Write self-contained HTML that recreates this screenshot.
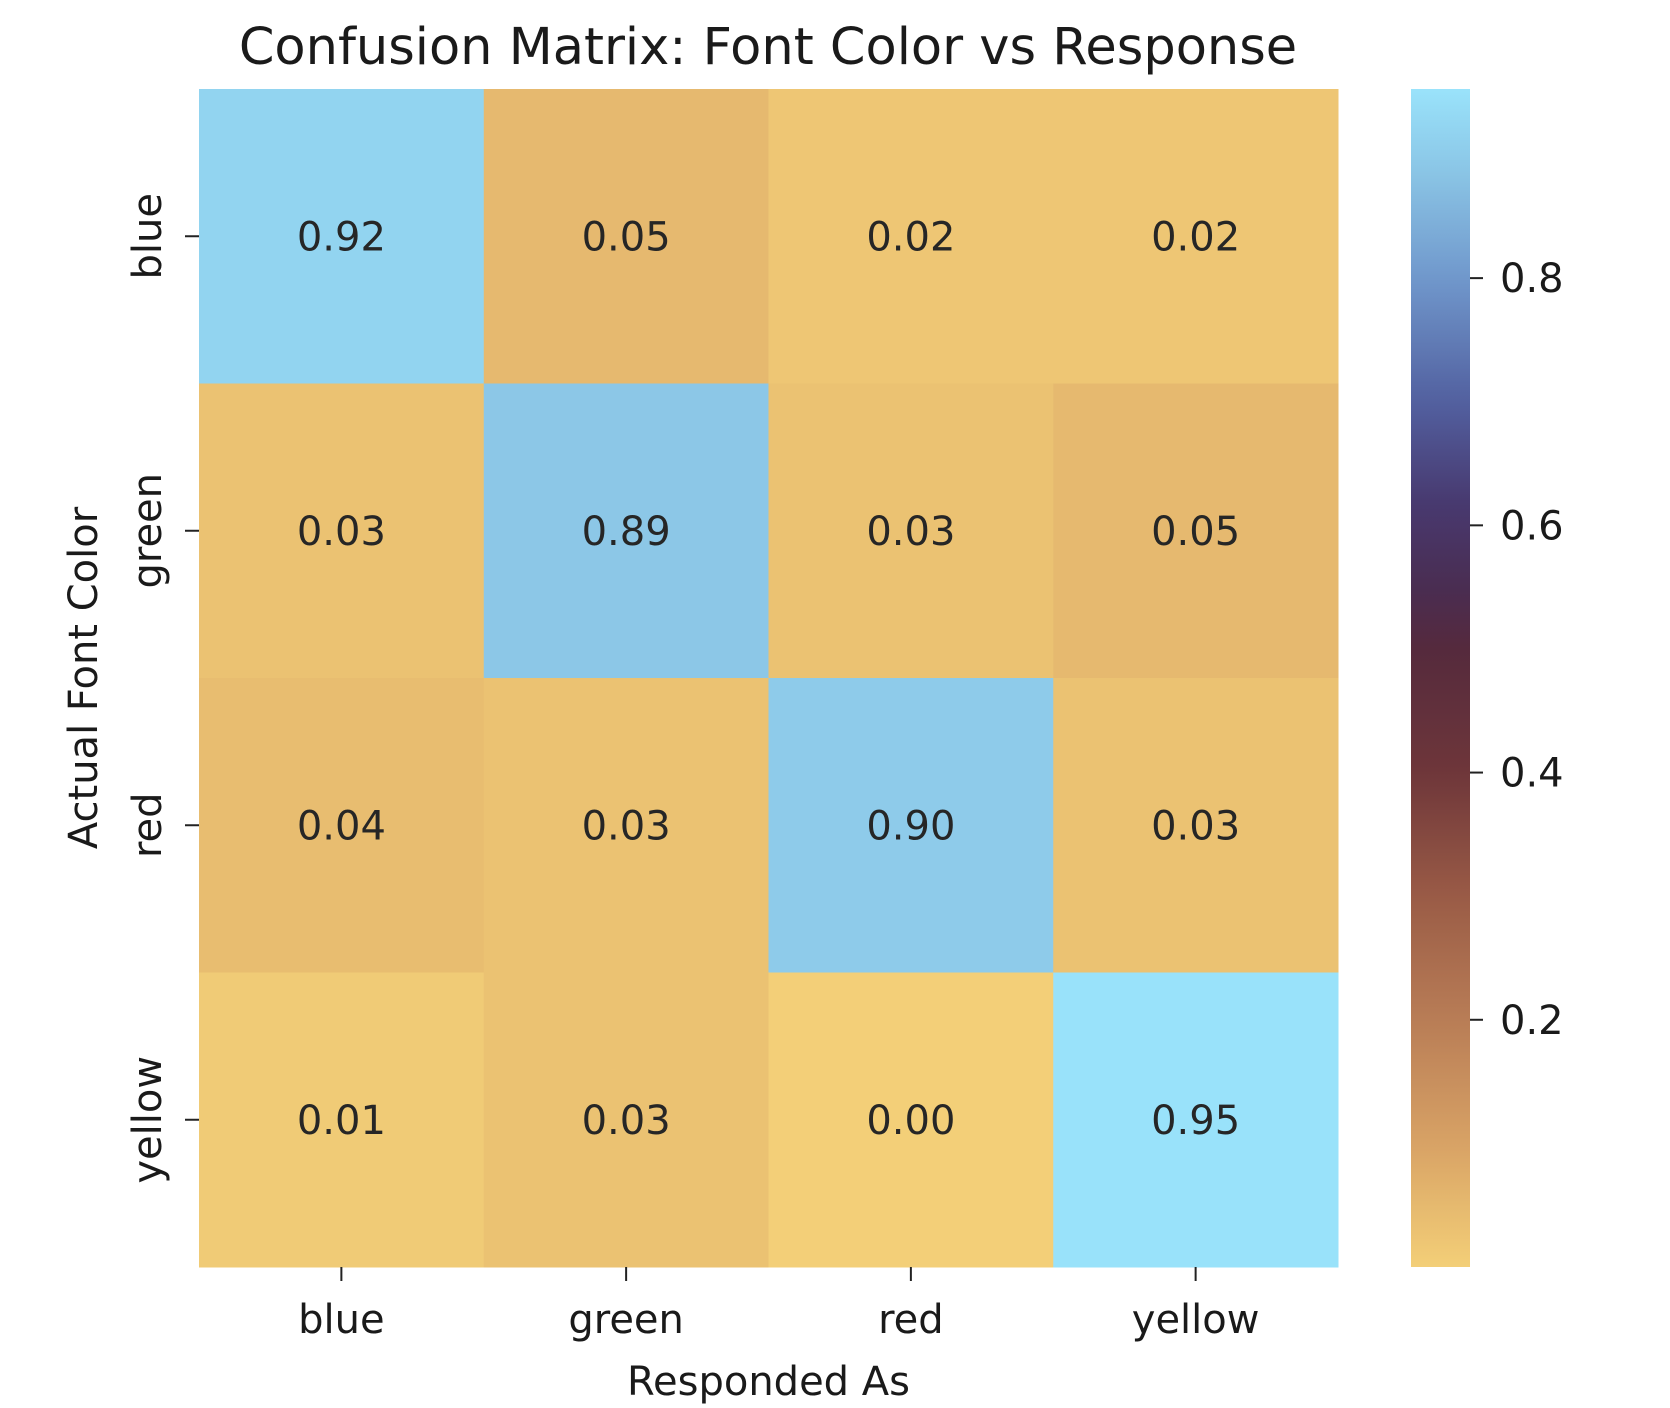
<!DOCTYPE html>
<html><head><meta charset="utf-8"><style>
html,body{margin:0;padding:0;background:#fff;}
svg{display:block;font-family:"DejaVu Sans","Liberation Sans",sans-serif;}
</style></head><body>
<svg id="chart" width="1670" height="1408" viewBox="0 0 1670 1408" xmlns="http://www.w3.org/2000/svg">
<defs>
<linearGradient id="cbgrad" x1="0" y1="1" x2="0" y2="0"></linearGradient>
</defs>
<text x="768" y="64" text-anchor="middle" font-size="51" fill="#1a1a1a">Confusion Matrix: Font Color vs Response</text>
<g id="cells"></g>
<g id="axes"></g>
<g id="colorbar"></g>
</svg>
<script>
const rowLabels = ["blue","green","red","yellow"];
const colLabels = ["blue","green","red","yellow"];
const row0 = [0.92,0.05,0.02,0.02];
const row1 = [0.03,0.89,0.03,0.05];
const row2 = [0.04,0.03,0.90,0.03];
const row3 = [0.01,0.03,0.00,0.95];
const matrix = [row0,row1,row2,row3];
const cbTicks = [0.2,0.4,0.6,0.8];

const NS = "http://www.w3.org/2000/svg";
const L = 199, R = 1338, T = 89, B = 1267;
const CBL = 1411, CBR = 1470;
const all = matrix.flat();
const vmin = Math.min(...all), vmax = Math.max(...all) + 0.003;
const stops = [[0,"#f3cf78"],[0.1,"#d8a265"],[0.2,"#b87d56"],[0.3,"#9a5b46"],[0.4,"#6e363a"],[0.5,"#552a3d"],[0.55,"#4a2d52"],[0.62,"#483a70"],[0.7,"#5260a0"],[0.8,"#7098cc"],[0.89,"#8cc7e7"],[0.92,"#92d4f0"],[0.953,"#9ae3fb"]];
function hex2rgb(h){return [1,3,5].map(i=>parseInt(h.substr(i,2),16));}
function cmap(v){
  if(v<=stops[0][0]) return stops[0][1];
  for(let i=1;i<stops.length;i++){
    if(v<=stops[i][0]){
      const a=stops[i-1],b=stops[i],t=(v-a[0])/(b[0]-a[0]);
      const c1=hex2rgb(a[1]),c2=hex2rgb(b[1]);
      return "rgb("+c1.map((c,k)=>Math.round(c+(c2[k]-c)*t)).join(",")+")";
    }
  }
  return stops[stops.length-1][1];
}
const xs = i => L + (R-L)/colLabels.length*i;
const ys = j => T + (B-T)/rowLabels.length*j;
const cw = (R-L)/colLabels.length, ch = (B-T)/rowLabels.length;
const cbY = v => B - (v - vmin)/(vmax - vmin)*(B-T);
function mk(tag, attrs, parent){const e=document.createElementNS(NS,tag);for(const k in attrs)e.setAttribute(k,attrs[k]);parent.appendChild(e);return e;}
const cells=document.getElementById("cells"), axes=document.getElementById("axes"), cb=document.getElementById("colorbar");
matrix.forEach((row,j)=>row.forEach((v,i)=>{
  const r=mk("rect",{x:xs(i),y:ys(j),width:cw+0.5,height:ch+0.5,fill:cmap(v)},cells);
  
  
  const t=mk("text",{x:xs(i)+cw/2,y:ys(j)+ch/2+14,"text-anchor":"middle","font-size":"40",fill:"#262626"},cells);
  t.textContent=v.toFixed(2);
  
  
}));
colLabels.forEach((c,i)=>{
  const cx=xs(i)+cw/2;
  const tk=mk("line",{x1:cx,y1:B,x2:cx,y2:B+14,stroke:"#222","stroke-width":"2"},axes);
  
  
  const t=mk("text",{x:cx,y:1333,"text-anchor":"middle","font-size":"40",fill:"#1a1a1a"},axes);
  t.textContent=c;
  
  
});
rowLabels.forEach((r,j)=>{
  const cy=ys(j)+ch/2;
  const tk=mk("line",{x1:L-14,y1:cy,x2:L,y2:cy,stroke:"#222","stroke-width":"2"},axes);
  
  
  const t=mk("text",{x:161,y:cy,"text-anchor":"middle","font-size":"40",fill:"#1a1a1a",transform:"rotate(-90 161 "+cy+")"},axes);
  t.textContent=r;
  
  
});
const xl=mk("text",{x:(L+R)/2,y:1395,"text-anchor":"middle","font-size":"40",fill:"#1a1a1a"},axes);
xl.textContent="Responded As";


const yc=(T+B)/2;
const yl=mk("text",{x:97,y:yc,"text-anchor":"middle","font-size":"40",fill:"#1a1a1a",transform:"rotate(-90 97 "+yc+")"},axes);
yl.textContent="Actual Font Color";


const grad=document.getElementById("cbgrad");
for(let k=0;k<=40;k++){const v=vmin+(vmax-vmin)*k/40;mk("stop",{offset:(k/40),"stop-color":cmap(v)},grad);}
const bar=mk("rect",{x:CBL,y:T,width:CBR-CBL,height:B-T,fill:"url(#cbgrad)"},cb);


cbTicks.forEach(v=>{
  const y=cbY(v);
  const tk=mk("line",{x1:CBR,y1:y,x2:CBR+13,y2:y,stroke:"#222","stroke-width":"2"},cb);
  
  
  const t=mk("text",{x:CBR+30,y:y+14,"font-size":"40",fill:"#1a1a1a"},cb);
  t.textContent=v.toFixed(1);
  
  
});
</script>
</body></html>
